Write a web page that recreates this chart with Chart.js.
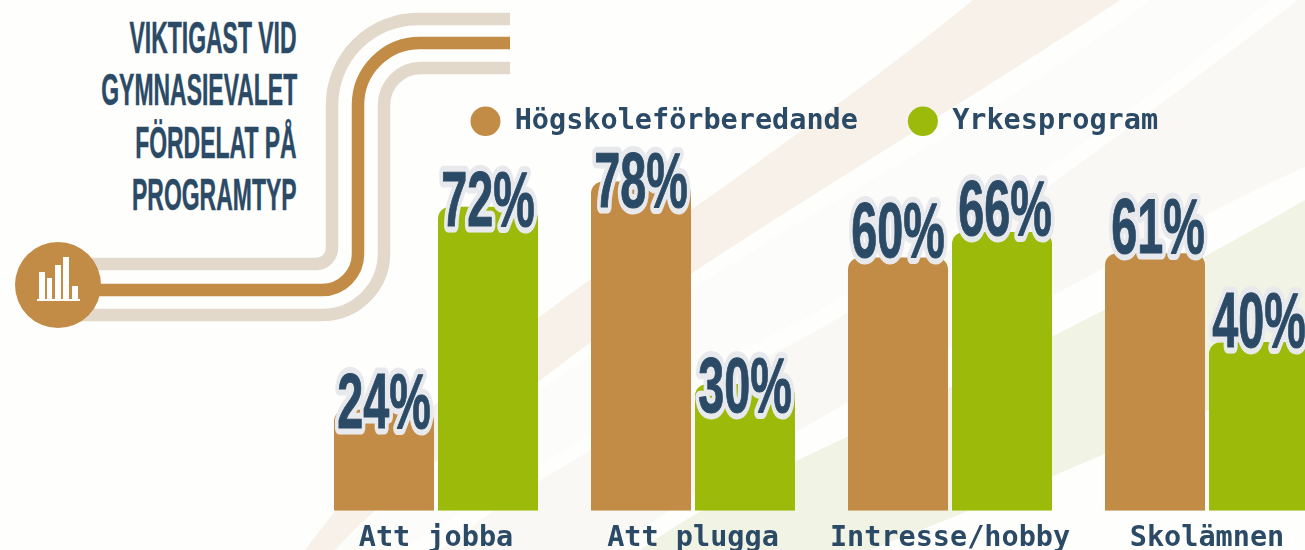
<!DOCTYPE html>
<html><head><meta charset="utf-8">
<script src="https://cdn.jsdelivr.net/npm/chart.js@4"></script>
<style>
html,body{margin:0;padding:0;background:#fefefd;width:1305px;height:550px;overflow:hidden}
#bg{position:absolute;left:0;top:0}
#wrap{position:absolute;left:300px;top:0;width:1040px;height:566px}
.t{position:absolute;right:1008px;font:bold 45px "Liberation Sans",sans-serif;color:#2b4a66;-webkit-text-stroke:.5px #2b4a66;transform:scaleX(.51);transform-origin:right center;white-space:nowrap;line-height:52px}
</style></head><body>
<svg id="bg" width="1305" height="550" viewBox="0 0 1305 550">
<path fill="#fcfcfa" d="M1150,0 C1050,77 930,145 800,222 C640,320 470,430 335,550 H400 C530,470 660,390 800,321 C950,240 1120,125 1270,0Z"/>
<path fill="#faf8f5" d="M1298,0 C1200,75 1120,135 1050,185 C960,245 880,295 800,340 C680,400 550,465 440,550 H610 C670,510 730,470 800,430 C900,370 1000,325 1100,270 C1170,235 1240,195 1305,167 V0Z"/>
<path fill="#f7f1e9" d="M973,0 C900,60 790,140 695,207 C590,280 430,380 305,550 H335 C400,480 470,440 537,383 C680,270 940,120 1120,0Z"/>
<path fill="#f1f4e4" d="M1305,200 C1150,290 980,375 800,459 C745,485 690,515 640,550 H870 C1000,500 1160,430 1305,370Z"/>
<g fill="none" stroke-width="12.5">
<path stroke="#e2d9cb" d="M70,264 H316 A16,16 0 0 0 332,248 V105 A86,86 0 0 1 418,19 H510"/>
<path stroke="#c28c46" d="M70,290 H322 A36,36 0 0 0 358,254 V105 A62,62 0 0 1 420,43 H510"/>
<path stroke="#e2d9cb" d="M70,315 H322 A62,62 0 0 0 384,253 V105 A37,37 0 0 1 421,68 H510"/>
</g>
<circle cx="58" cy="285" r="43" fill="#c28c46"/>
<g fill="#fff"><rect x="39" y="272" width="6" height="28"/><rect x="47" y="278" width="5" height="22"/><rect x="55" y="265" width="6" height="35"/><rect x="63" y="257" width="6" height="43"/><rect x="72" y="286" width="6" height="14"/><rect x="37" y="299" width="43" height="2"/></g>
</svg>
<div class="t" style="top:12px">VIKTIGAST VID</div>
<div class="t" style="top:64px">GYMNASIEVALET</div>
<div class="t" style="top:117px">FÖRDELAT PÅ</div>
<div class="t" style="top:169px">PROGRAMTYP</div>
<div id="wrap"><canvas id="c" width="1040" height="566"></canvas></div>
<script>
const categories = ["Att jobba", "Att plugga", "Intresse/hobby", "Skolämnen"];
const seriesNames = ["Högskoleförberedande", "Yrkesprogram"];
const hogskole = [24, 78, 60, 61];
const yrkes = [72, 30, 66, 40];
const hogskoleDrop = [19, 26, 0, 0];
const yrkesDrop = [19, 28, 3, 5];
const hogskoleNudge = [0, 0, 0, 3];
const yrkesNudge = [0, 0, 3, 0];
const INK = "#2b4a66", ORANGE = "#c28c46", GREEN = "#9cba0a";
const MONO = '"DejaVu Sans Mono", monospace';

const placeLegend = {
  id: "placeLegend",
  afterLayout(chart) {
    const l = chart.legend;
    l.top = 57; l.bottom = 175; l.left = -7;
  }
};
const valueLabels = {
  id: "valueLabels",
  afterDatasetsDraw(chart) {
    const ctx = chart.ctx;
    const drops = [hogskoleDrop, yrkesDrop];
    const nudges = [hogskoleNudge, yrkesNudge];
    chart.data.datasets.forEach((ds, d) => {
      chart.getDatasetMeta(d).data.forEach((bar, i) => {
        ctx.save();
        ctx.translate(bar.x + nudges[d][i], bar.y + drops[d][i]);
        ctx.scale(0.6, 1);
        ctx.font = 'bold 78px "Liberation Sans", sans-serif';
        ctx.textAlign = "center";
        ctx.textBaseline = "alphabetic";
        ctx.lineJoin = "round";
        ctx.strokeStyle = "#e8e9ec";
        ctx.lineWidth = 13;
        const s = ds.data[i] + "%";
        ctx.strokeText(s, 0, 0);
        ctx.strokeStyle = INK;
        ctx.lineWidth = 1;
        ctx.strokeText(s, 0, 0);
        ctx.fillStyle = INK;
        ctx.fillText(s, 0, 0);
        ctx.restore();
      });
    });
  }
};
const radius = { topLeft: 12, topRight: 12, bottomLeft: 0, bottomRight: 0 };
new Chart(document.getElementById("c"), {
  type: "bar",
  data: {
    labels: categories,
    datasets: [
      { label: seriesNames[0], data: hogskole, backgroundColor: ORANGE, borderRadius: radius, borderSkipped: false },
      { label: seriesNames[1], data: yrkes, backgroundColor: GREEN, borderRadius: radius, borderSkipped: false }
    ]
  },
  options: {
    responsive: false, animation: false, events: [],
    layout: { padding: { left: 7.5, right: 4.5, top: 0, bottom: 0 } },
    datasets: { bar: { categoryPercentage: 0.8093, barPercentage: 0.9615 } },
    scales: {
      x: { grid: { display: false, drawTicks: false }, border: { display: false },
           ticks: { color: INK, font: { family: MONO, size: 28.5, weight: "bold" }, padding: 10.5, autoSkip: false, maxRotation: 0 } },
      y: { display: false, min: 0, max: 100 }
    },
    plugins: {
      tooltip: { enabled: false },
      legend: { position: "top", labels: { color: INK, font: { family: MONO, size: 28.5, weight: "bold" }, usePointStyle: true, pointStyle: "circle", boxHeight: 21, pointStyleWidth: 30, padding: 50 } }
    }
  },
  plugins: [placeLegend, valueLabels]
});
</script>
</body></html>
